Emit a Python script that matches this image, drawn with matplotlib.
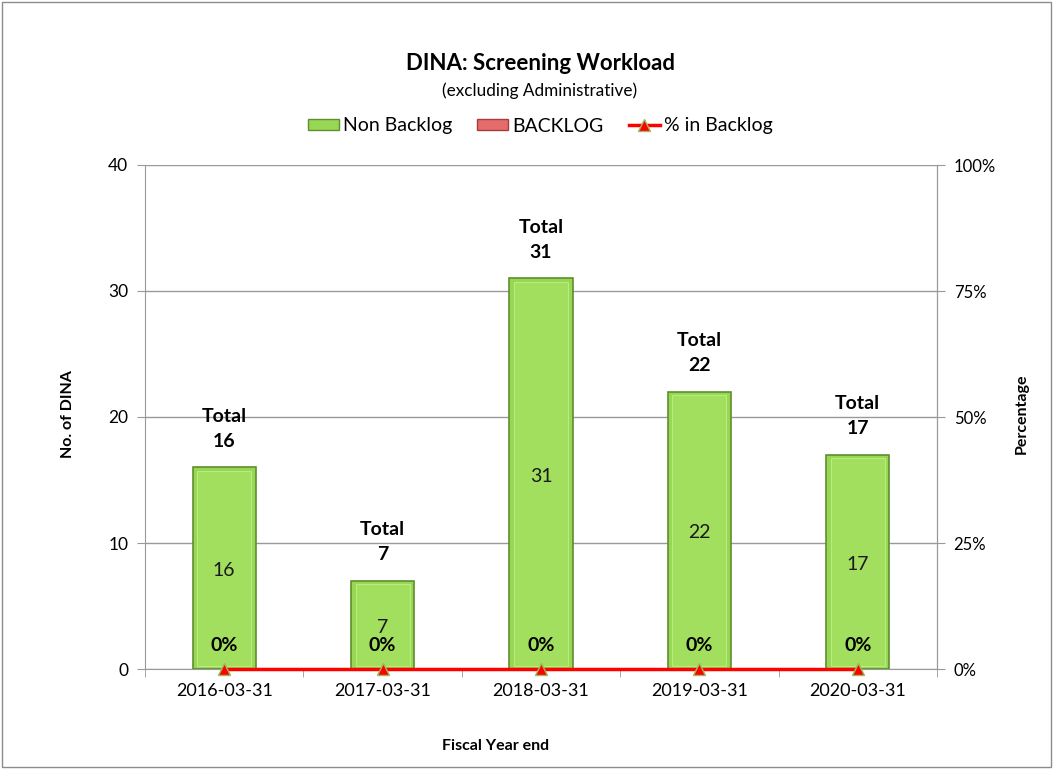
import matplotlib
matplotlib.use("Agg")
import matplotlib.pyplot as plt
from matplotlib.patches import Rectangle
from matplotlib.lines import Line2D
import numpy as np

categories = ["2016-03-31", "2017-03-31", "2018-03-31", "2019-03-31", "2020-03-31"]
non_backlog = [16, 7, 31, 22, 17]
backlog = [0, 0, 0, 0, 0]
pct_backlog = [0, 0, 0, 0, 0]

plt.rcParams['font.family'] = ['Lato', 'DejaVu Sans']

fig = plt.figure(figsize=(10.53, 7.69), dpi=100)
fig.patches.append(Rectangle((0.002, 0.002), 0.996, 0.996, transform=fig.transFigure,
                             fill=False, edgecolor='#8c8c8c', linewidth=1.0))

ax = fig.add_axes([145/1053, 1-669/769, (937-145)/1053, (669-165)/769])
x = np.arange(len(categories))
width = 0.4
totals = [a + b for a, b in zip(non_backlog, backlog)]

ax.bar(x, non_backlog, width, color='#98D655', edgecolor='#5F8F2C', linewidth=1.2, zorder=3)
# bevel highlight
for xi, v in zip(x, non_backlog):
    ax.add_patch(Rectangle((xi - width/2 + 0.03, 0.25), width - 0.06, v - 0.5,
                           facecolor='#A2DF5E', edgecolor='#B8EC7C', linewidth=0.8, zorder=3.5))
bl_bars = ax.bar(x, backlog, width, bottom=non_backlog, color='#E46C6C',
                 edgecolor='#A83C3C', linewidth=0, zorder=3)

ax.set_xlim(-0.5, 4.5)
ax.set_ylim(0, 40)
ax.set_yticks([0, 10, 20, 30, 40])
ax.yaxis.grid(True, color='#999999', linewidth=1.0, zorder=0)
ax.set_axisbelow(True)
ax.set_xticks(x)
ax.set_xticklabels(categories, fontsize=13)
ax.set_xticks(np.arange(-0.5, 5.0, 1.0), minor=True)
ax.tick_params(axis='x', which='major', length=0, pad=10)
ax.tick_params(axis='x', which='minor', length=6, color='#999999', direction='out')
ax.tick_params(axis='y', labelsize=12.5, length=6, color='#999999', direction='out', pad=6)
ax.spines['top'].set_visible(False)
for s in ['left', 'bottom', 'right']:
    ax.spines[s].set_color('#999999')

for xi, v, t in zip(x, non_backlog, totals):
    ax.text(xi, v / 2 - 0.2, str(v), ha='center', va='center', fontsize=14, color='#1a1a1a', zorder=5)
    ax.text(xi, t + 1.4, f"Total\n{t}", ha='center', va='bottom', fontsize=14,
            fontweight='bold', linespacing=1.55, zorder=5)

ax2 = ax.twinx()
ax2.set_ylim(0, 1)
ax2.set_yticks([0, 0.25, 0.5, 0.75, 1.0])
ax2.set_yticklabels(["0%", "25%", "50%", "75%", "100%"])
ax2.tick_params(axis='y', labelsize=12, length=6, color='#999999', direction='out', pad=6)
for s in ['top', 'left', 'bottom']:
    ax2.spines[s].set_visible(False)
ax2.spines['right'].set_color('#999999')
ax2.plot(x, pct_backlog, color='#FF0000', linewidth=2.5, marker='^', markersize=8,
         markerfacecolor='#FF0000', markeredgecolor='#9BBB59', markeredgewidth=1.0, zorder=6,
         clip_on=False)
for xi, p in zip(x, pct_backlog):
    ax2.text(xi, p + 0.03, f"{p:.0%}", ha='center', va='bottom', fontsize=14,
             fontweight='bold', zorder=7)

fig.text(68/1053, 1-414/769, "No. of DINA", rotation=90, ha='center', va='center',
         fontsize=11.5, fontweight='bold')
fig.text(1022/1053, 1-414/769, "Percentage", rotation=90, ha='center', va='center',
         fontsize=11.5, fontweight='bold')
fig.text(496/1053, 1-746/769, "Fiscal Year end", ha='center', va='center',
         fontsize=11.5, fontweight='bold')

fig.text(540/1053, 1-64/769, "DINA: Screening Workload", ha='center', va='center',
         fontsize=16, fontweight='bold')
fig.text(540/1053, 1-91/769, "(excluding Administrative)", ha='center', va='center', fontsize=12.3)

handles = [Rectangle((0, 0), 1, 1, facecolor='#98D655', edgecolor='#5F8F2C'),
           Rectangle((0, 0), 1, 1, facecolor='#E46C6C', edgecolor='#A83C3C'),
           Line2D([0], [0], color='#FF0000', linewidth=2.5, marker='^', markersize=8,
                  markerfacecolor='#FF0000', markeredgecolor='#9BBB59')]
fig.legend(handles, ["Non Backlog", "BACKLOG", "% in Backlog"], loc='center',
           bbox_to_anchor=(540/1053, 1-126/769), ncol=3, frameon=False, fontsize=14,
           handlelength=1.6, handleheight=0.55, handletextpad=0.2, columnspacing=1.3)

fig.savefig("out.png", dpi=100)
